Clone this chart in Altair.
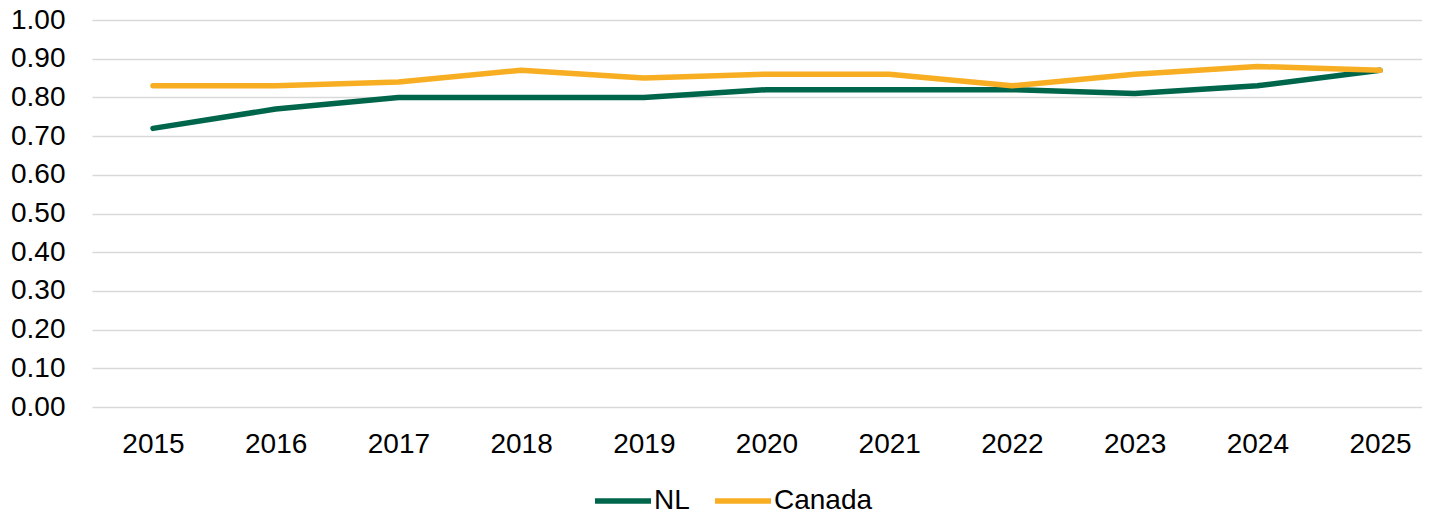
import altair as alt
import pandas as pd

years = [2015, 2016, 2017, 2018, 2019, 2020, 2021, 2022, 2023, 2024, 2025]
nl = [0.72, 0.77, 0.80, 0.80, 0.80, 0.82, 0.82, 0.82, 0.81, 0.83, 0.87]
canada = [0.83, 0.83, 0.84, 0.87, 0.85, 0.86, 0.86, 0.83, 0.86, 0.88, 0.87]
series_names = ["NL", "Canada"]
series_colors = ["#00664B", "#F8AE22"]
y_ticks = [0.0, 0.1, 0.2, 0.3, 0.4, 0.5, 0.6, 0.7, 0.8, 0.9, 1.0]

rows = []
for name, vals in zip(series_names, [nl, canada]):
    for i, (yr, v) in enumerate(zip(years, vals)):
        rows.append({"year": yr, "value": v, "series": name, "ord": i})
df = pd.DataFrame(rows)

FONT = "Liberation Sans"

chart = alt.Chart(df).mark_line(strokeWidth=5.5, strokeCap="round", strokeJoin="round").encode(
    x=alt.X("year:Q",
            scale=alt.Scale(domain=[2014.503, 2025.342], nice=False, zero=False),
            axis=alt.Axis(values=years, format="d", title=None, grid=False, domain=False,
                          ticks=False, labelPadding=23, labelFontSize=28, labelFont=FONT,
                          labelColor="#000000")),
    y=alt.Y("value:Q",
            scale=alt.Scale(domain=[0, 1], nice=False),
            axis=alt.Axis(values=y_ticks, format=".2f", title=None, grid=True, gridColor="#D9D9D9",
                          gridWidth=1.5, domain=False, ticks=False, labelPadding=27,
                          labelFontSize=28, labelFont=FONT, labelColor="#000000")),
    color=alt.Color("series:N",
                    scale=alt.Scale(domain=series_names, range=series_colors),
                    legend=alt.Legend(title=None, orient="none", direction="horizontal",
                                      legendX=500, legendY=450, padding=0,
                                      symbolType="stroke", symbolSize=3136, symbolStrokeWidth=5.5,
                                      labelFontSize=28, labelFont=FONT, labelColor="#000000",
                                      labelOffset=0, columnPadding=14)),
    order=alt.Order("ord:Q"),
    detail="series:N",
).properties(
    width=1330,
    height=387,
    padding={"left": 84, "top": 12, "right": 0, "bottom": 106},
    autosize=alt.AutoSizeParams(type="none"),
).configure_view(stroke=None)

chart.save("out.html", embed_options={"renderer": "svg", "actions": False})
